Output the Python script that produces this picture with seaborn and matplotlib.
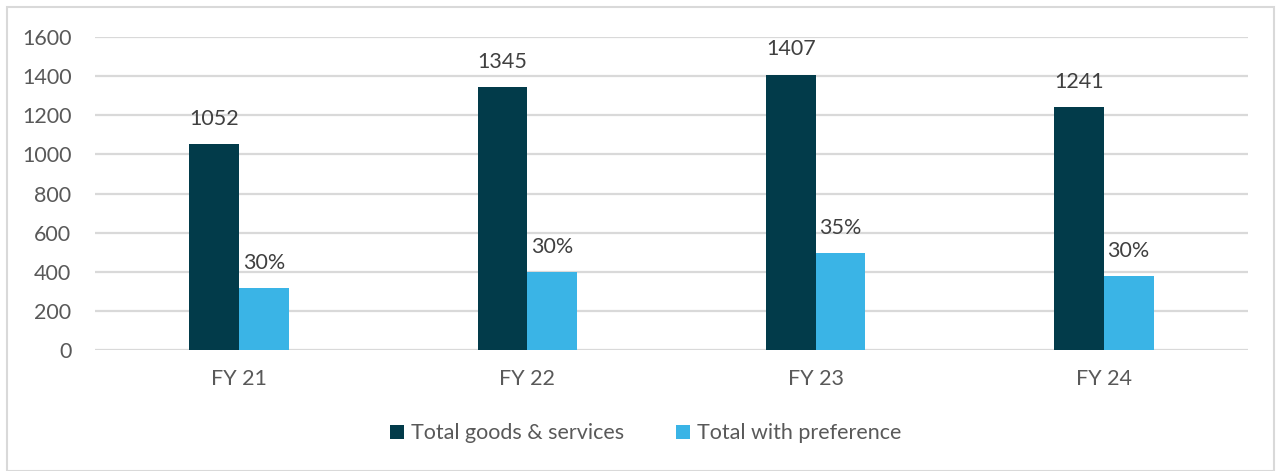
import pandas as pd
import matplotlib.pyplot as plt
import seaborn as sns
from matplotlib.patches import Rectangle, Patch

years = ['FY 21', 'FY 22', 'FY 23', 'FY 24']
total_goods = [1052, 1345, 1407, 1241]
total_pref = [317, 399, 496, 378]
pref_labels = ['30%', '30%', '35%', '30%']
series = ['Total goods & services', 'Total with preference']
colors = ['#023B4A', '#3AB4E6']

df = pd.DataFrame({
    'year': years * 2,
    'value': total_goods + total_pref,
    'series': [series[0]] * 4 + [series[1]] * 4,
})

sns.set_style('white')
plt.rcParams['font.family'] = ['Lato', 'DejaVu Sans']
text_color = '#595959'

fig = plt.figure(figsize=(12.76, 4.71), dpi=100)
ax = fig.add_axes([0.0745, 0.2569, 0.9035, 0.6645])

sns.barplot(data=df, x='year', y='value', hue='series', palette=colors,
            width=0.345, saturation=1, linewidth=0, ax=ax, legend=False)

ax.set_ylim(0, 1600)
ax.set_yticks(range(0, 1601, 200))
ax.set_xlim(-0.5, 3.5)
ax.yaxis.grid(True, color='#D9D9D9', linewidth=1.6)
ax.set_axisbelow(True)
for s in ax.spines.values():
    s.set_visible(False)
ax.set_xlabel('')
ax.set_ylabel('')
ax.tick_params(axis='both', length=0, labelsize=15.5, labelcolor=text_color)
ax.tick_params(axis='y', pad=17)
ax.tick_params(axis='x', pad=14)

ax.bar_label(ax.containers[0], labels=[str(v) for v in total_goods],
             padding=11, fontsize=15.5, color='#404040')
ax.bar_label(ax.containers[1], labels=pref_labels,
             padding=11, fontsize=15.5, color='#404040')

handles = [Patch(facecolor=c, edgecolor='none') for c in colors]
fig.legend(handles, series, loc='center', bbox_to_anchor=(0.506, 0.08),
           ncol=2, frameon=False, fontsize=15.5, labelcolor=text_color,
           handlelength=0.65, handleheight=0.65, handletextpad=0.35,
           columnspacing=2.4)

fig.patches.append(Rectangle((0.0055, 0.0), 0.993, 0.985, transform=fig.transFigure,
                             fill=False, edgecolor='#D9D9D9', linewidth=1.5))

fig.savefig('out.png', dpi=100)
